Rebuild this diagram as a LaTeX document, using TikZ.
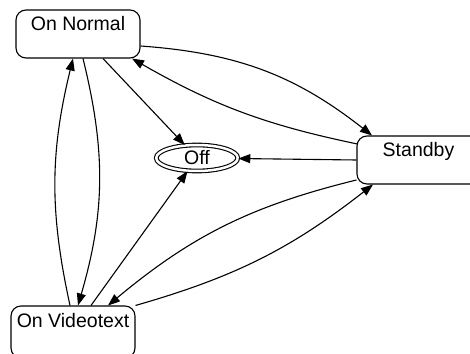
\documentclass[tikz,border=0pt]{standalone}
\usepackage{fontspec}
\setmainfont{Liberation Sans}
\usetikzlibrary{arrows.meta,shapes.geometric}

\begin{document}
\begin{tikzpicture}[x=1pt, y=1pt,
  state/.style={draw, line width=1.1pt, rounded corners=10pt, inner sep=0pt, text height=21pt, text depth=27pt, font=\fontsize{19.5}{22}\selectfont},
  final/.style={ellipse, draw, line width=1.1pt, double, double distance=2.5pt, inner sep=0pt, minimum width=81.5pt, minimum height=26pt, text height=14pt, text depth=0pt, font=\fontsize{19.5}{22}\selectfont},
  tr/.style={line width=1.1pt, -{Triangle[length=12pt,width=9pt]}}]
\useasboundingbox (0,0) rectangle (470,353);
\node[state, minimum width=124pt] (on) at (78,319) {On Normal};
\node[state, minimum width=123pt] (sb) at (418.5,193) {Standby};
\node[state, minimum width=124pt, text depth=31pt] (vt) at (73,21) {On Videotext};
\node[final] (off) at (197,195) {Off};
% transitions
\draw[tr] ([yshift=-12pt]on.east) to[bend left=17] ([xshift=-46.5pt]sb.north);
\draw[tr] ([shift={(1pt,16pt)}]sb.west) to[bend left=9] ([xshift=54pt]on.south);
\draw[tr] ([xshift=25pt]on.south) -- (off);
\draw[tr] (sb.west) -- (off);
\draw[tr] ([xshift=5pt]on.south) to[bend left=15] ([xshift=5pt]vt.north);
\draw[tr] ([xshift=-3pt]vt.north) to[bend left=13] ([xshift=-5pt]on.south);
\draw[tr] ([xshift=18pt]vt.north) -- (off);
\draw[tr] ([yshift=-20pt]sb.west) to[bend right=13] ([xshift=35pt]vt.north);
\draw[tr] (vt.north east) to[bend right=11] ([xshift=-45.5pt]sb.south);
\end{tikzpicture}
\end{document}
